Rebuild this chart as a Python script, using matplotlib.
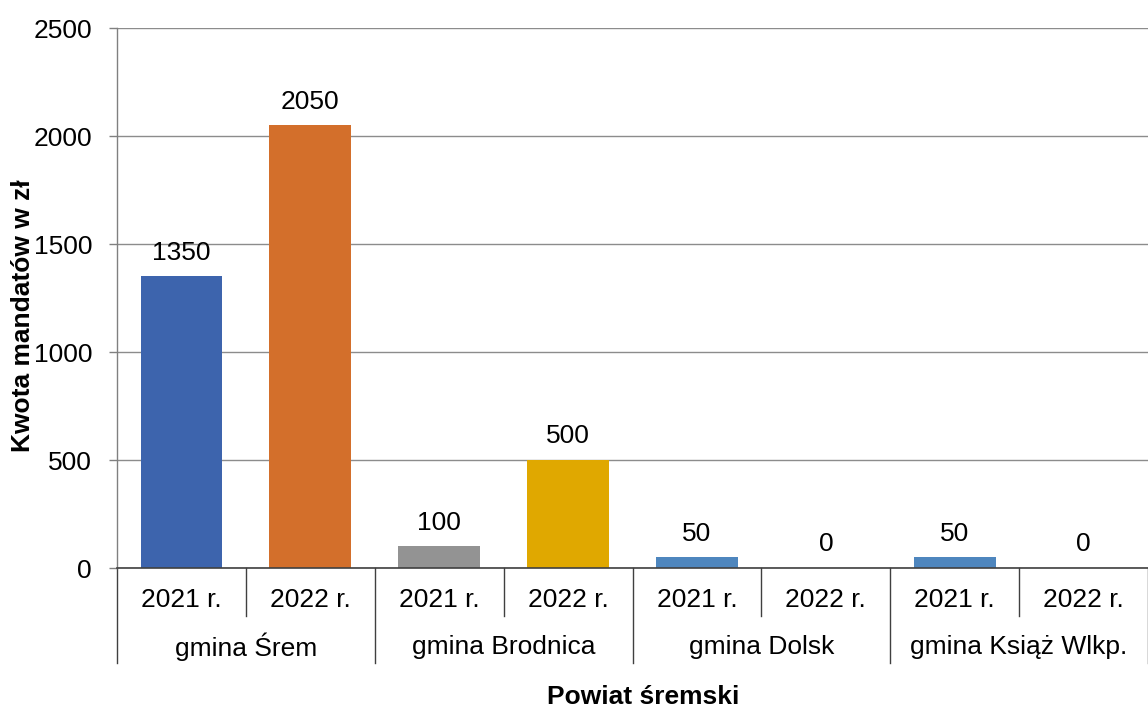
import matplotlib
matplotlib.use("Agg")
import matplotlib.pyplot as plt
import matplotlib.transforms as mtransforms

# Data
groups = ["gmina Śrem", "gmina Brodnica", "gmina Dolsk", "gmina Książ Wlkp."]
years = ["2021 r.", "2022 r."]
values = [1350, 2050, 100, 500, 50, 0, 50, 0]
colors = ["#3D64AD", "#D36F2B", "#939393", "#E0A800", "#4E86BE", "#8FA3D5", "#4E86BE", "#8FA3D5"]
y_ticks = [0, 500, 1000, 1500, 2000, 2500]
y_label = "Kwota mandatów w zł"
x_label = "Powiat śremski"

plt.rcParams["font.family"] = ["Liberation Sans", "DejaVu Sans"]
FS = 19

W, H = 1148, 724
fig = plt.figure(figsize=(W / 100, H / 100), dpi=100)
left, right, top, bottom = 117, 1148, 28, 568
ax = fig.add_axes([left / W, 1 - bottom / H, (right - left) / W, (bottom - top) / H])

n = len(values)
xs = list(range(n))
ax.bar(xs, values, width=0.635, color=colors, zorder=3)

for x, v in zip(xs, values):
    ax.annotate(str(v), (x, v), xytext=(0, 12), textcoords="offset points",
                ha="center", va="baseline", fontsize=FS, color="#000000")

ax.set_xlim(-0.5, n - 0.5)
ax.set_ylim(0, 2500)
ax.set_yticks(y_ticks)
ax.set_yticklabels([str(t) for t in y_ticks], fontsize=FS)
ax.tick_params(axis="y", length=6, width=1, color="#808080", pad=12)
ax.set_xticks([])
ax.grid(axis="y", color="#8C8C8C", linewidth=1, zorder=0)
ax.set_axisbelow(True)

for s in ["top", "right"]:
    ax.spines[s].set_visible(False)
ax.spines["left"].set_color("#808080")
ax.spines["left"].set_linewidth(1)
ax.spines["bottom"].set_color("#404040")
ax.spines["bottom"].set_linewidth(1.2)
ax.spines["bottom"].set_zorder(4)

ah = bottom - top
trans = mtransforms.blended_transform_factory(ax.transData, ax.transAxes)
y_year_line = -(616 - bottom) / ah
y_group_line = -(663 - bottom) / ah
y_year_txt = -(600 - bottom) / ah
y_group_txt = -(647 - bottom) / ah
y_xlabel = -(697 - bottom) / ah

for i in range(n + 1):
    xb = i - 0.5
    yend = y_group_line if i % 2 == 0 else y_year_line
    ax.plot([xb, xb], [0, yend], transform=trans, color="#404040", linewidth=1, clip_on=False)

for i in range(n):
    ax.text(i, y_year_txt, years[i % 2], transform=trans, ha="center", va="center", fontsize=FS)
for g, name in enumerate(groups):
    ax.text(2 * g + 0.5, y_group_txt, name, transform=trans, ha="center", va="center", fontsize=FS)

fig.text(643 / W, 1 - 697 / H, x_label, ha="center", va="center",
         fontsize=FS, fontweight="bold")
fig.text(23 / W, 1 - 316 / H, y_label, rotation=90, ha="center", va="center",
         fontsize=FS, fontweight="bold")

fig.savefig("out.png", dpi=100, facecolor="white")
